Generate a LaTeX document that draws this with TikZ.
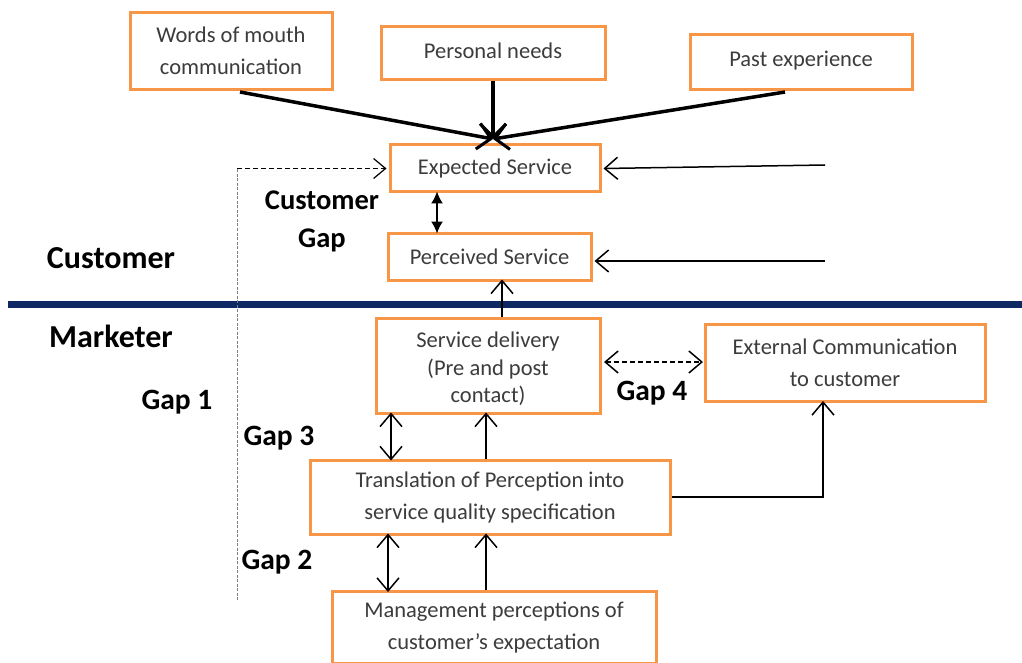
\documentclass[tikz,border=0pt]{standalone}
\usepackage{fontspec}
\setmainfont{Carlito}
\usetikzlibrary{arrows.meta}
\definecolor{boxorange}{RGB}{247,150,70}
\definecolor{navyline}{RGB}{14,40,100}
\definecolor{txtgray}{RGB}{60,60,60}
\begin{document}
\begin{tikzpicture}[x=1pt,y=-1pt,
  box/.style={draw=boxorange, line width=3pt, fill=white, text=txtgray,
    font=\fontsize{22.5}{32}\selectfont, align=center, inner sep=0pt},
  lbl/.style={font=\fontsize{29.5}{38}\selectfont\bfseries, text=black, align=center, inner sep=0pt},
  mainlbl/.style={font=\fontsize{32}{34}\selectfont\bfseries, text=black, inner sep=0pt},
  tip/.tip={Straight Barb[length=13pt,width=22pt,line width=1.5pt]},
  arr/.style={line width=1.5pt, -tip},
  dblarr/.style={line width=1.5pt, tip-tip},
  thickarr/.style={line width=3.5pt, -{Straight Barb[length=13pt,width=26pt,line width=3pt]}},
  gapdash/.style={dash pattern=on 5pt off 3pt}
]
\useasboundingbox (0,0) rectangle (1022,663);
\clip (0,0) rectangle (1022,663);

% divider
\coordinate (dl) at (8,304);
\coordinate (dr) at (1022,304);
\draw[navyline, line width=7pt] (dl) -- (dr);

% boxes
\node[box, minimum width=202pt, minimum height=77pt] (wom) at (231,51) {Words of mouth\\communication};
\node[box, minimum width=224pt, minimum height=53pt, text depth=6pt] (pn) at (493,53.5) {Personal needs};
\node[box, minimum width=222pt, minimum height=55pt, text depth=6pt] (pe) at (801,62) {Past experience};
\node[box, minimum width=210pt, minimum height=47pt] (es) at (495,168.5) {Expected Service};
\node[box, minimum width=203pt, minimum height=47pt] (ps) at (489.5,256.5) {Perceived Service};
\node[box, minimum width=224pt, minimum height=95pt] (sd) at (488,365.5) {};
\node[text=txtgray, font=\fontsize{22.5}{27.5}\selectfont, align=center, inner sep=0pt] (sdt) at (488,369) {Service delivery\\(Pre and post\\contact)};
\node[box, minimum width=280pt, minimum height=77pt] (ec) at (845,363) {External Communication\\to customer};
\node[box, minimum width=360pt, minimum height=74pt] (tr) at (490,497) {Translation of Perception into\\service quality specification};
\node[box, minimum width=324pt, minimum height=72pt, anchor=north] (mp) at (494,590) {Management perceptions of\\customer’s expectation};

% labels
\node[mainlbl] (lcust) at (111,258) {Customer};
\node[mainlbl] (lmark) at (111,336) {Marketer};
\node[lbl, font=\fontsize{28.5}{38}\selectfont\bfseries] (lcg) at (322,221) {Customer\\Gap};
\node[lbl] (lg1) at (177,402) {Gap 1};
\node[lbl] (lg3) at (279,438) {Gap 3};
\node[lbl] (lg2) at (277,562) {Gap 2};
\node[lbl] (lg4) at (652,393) {Gap 4};

% top converging arrows
\coordinate (conv) at (493,139);
\draw[thickarr] ([xshift=9pt,yshift=-1pt]wom.south) -- (conv);
\draw[thickarr] (pn.south) -- (conv);
\draw[thickarr] ([xshift=-16pt,yshift=-1pt]pe.south) -- (conv);

% right inputs
\coordinate (r1) at (825,165);
\coordinate (r2) at (825,261);
\draw[arr] (r1) -- ([xshift=2pt]es.east);
\draw[arr] (r2) -- ([xshift=2pt]r2 -| ps.east);

% gap 1 dashed feedback
\coordinate (g1b) at (237,600);
\coordinate (g1t) at (237,168.5);
\draw[gray, line width=1pt, dash pattern=on 3pt off 1.5pt] (g1b) -- (g1t);
\draw[line width=1.2pt, gapdash, -{Straight Barb[length=12pt,width=20pt,line width=1.2pt]}] (g1t) -- ([xshift=-2pt]es.west);

% customer gap
\coordinate (cgx) at (437,0);
\draw[line width=1.5pt, {Latex[length=12pt,width=12pt]}-{Latex[length=12pt,width=12pt]}] ([yshift=2pt]es.south -| cgx) -- ([yshift=-2pt]ps.north -| cgx);

% delivery to perceived
\coordinate (upx) at (502,0);
\draw[arr] (sd.north -| upx) -- ([yshift=2pt]ps.south -| upx);

% gap 4
\coordinate (g4l) at (604,362);
\coordinate (g4r) at (703,362);
\draw[line width=1.4pt, gapdash, tip-tip] (g4l) -- (g4r);

% translation to external
\draw[arr] (tr.east) -| ([xshift=-22pt,yshift=2pt]ec.south);

% gap 3 and up arrow
\coordinate (g3x) at (391,0);
\coordinate (u2x) at (486,0);
\draw[dblarr] ([yshift=2pt]sd.south -| g3x) -- ([yshift=-2pt]tr.north -| g3x);
\draw[arr] (tr.north -| u2x) -- ([yshift=2pt]sd.south -| u2x);

% gap 2 and up arrow
\coordinate (g2x) at (388,0);
\draw[dblarr] ([yshift=2pt]tr.south -| g2x) -- ([yshift=-2pt]mp.north -| g2x);
\draw[arr] (mp.north -| u2x) -- ([yshift=2pt]tr.south -| u2x);
\end{tikzpicture}
\end{document}
